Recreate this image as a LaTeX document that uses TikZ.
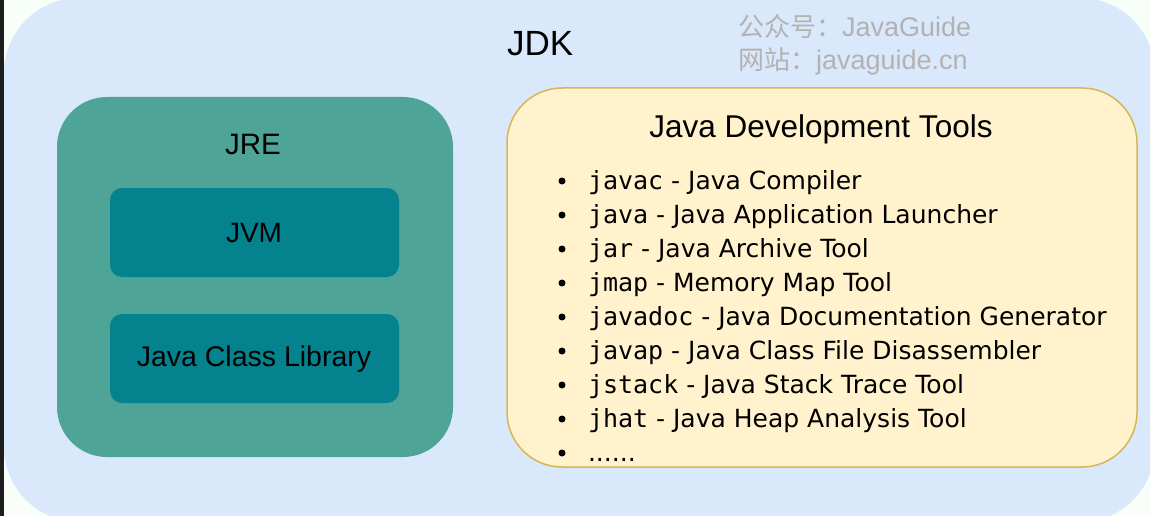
\documentclass[tikz,border=0pt]{standalone}
\usepackage{fontspec}
\setmainfont{Liberation Sans}
\newfontfamily\cjk{Noto Sans CJK SC}
\newfontfamily\listfont{DejaVu Sans}
\newfontfamily\codefont{DejaVu Sans Mono}
\definecolor{pagebg}{HTML}{F8FFF8}
\definecolor{darkedge}{HTML}{1E1E1E}
\definecolor{jdkfill}{HTML}{DAE8FC}
\definecolor{jrefill}{HTML}{4EA597}
\definecolor{innerfill}{HTML}{04838F}
\definecolor{toolfill}{HTML}{FFF2CC}
\definecolor{tooldraw}{HTML}{D6B656}
\definecolor{marktext}{HTML}{B2B2B2}
\newcommand{\fs}[1]{\fontsize{#1}{#1}\selectfont}
\tikzset{
  boxnode/.style={rectangle, inner sep=0pt, outer sep=0pt},
  lbl/.style={inner sep=0pt, outer sep=0pt, text=black},
  itemtext/.style={inner sep=0pt, outer sep=0pt, anchor=base west, text=black, font=\listfont\fs{25}},
  bulletdot/.style={circle, fill=black, inner sep=0pt, minimum size=7pt}
}
\newcommand{\cmd}[1]{{\codefont #1}}
\begin{document}
\begin{tikzpicture}[x=1pt,y=-1pt]
\useasboundingbox (0,0) rectangle (1150,516);
\fill[pagebg] (0,0) rectangle (1150,516);
\fill[darkedge] (0,0) rectangle (3.5,516);
% JDK outer
\node[boxnode, fill=jdkfill, rounded corners=75pt, minimum width=1151pt, minimum height=524pt] (jdk) at (579.5,260) {};
% JRE
\node[boxnode, fill=jrefill, rounded corners=50pt, minimum width=396pt, minimum height=360pt] (jre) at (255,277) {};
\node[boxnode, fill=innerfill, rounded corners=12pt, minimum width=289pt, minimum height=89pt] (jvm) at (254.5,232.5) {};
\node[boxnode, fill=innerfill, rounded corners=12pt, minimum width=289pt, minimum height=89pt] (jcl) at (254.5,358.5) {};
% Tools
\node[boxnode, fill=toolfill, draw=tooldraw, line width=1.5pt, rounded corners=55pt, minimum width=630pt, minimum height=379pt] (tools) at (822,277.5) {};
% labels
\node[lbl, anchor=base west, font=\fs{35}] (jdklbl) at (507,56) {JDK};
\node[lbl, anchor=base, font=\fs{29.5}] (jrelbl) at (253,154) {JRE};
\node[lbl, anchor=base, font=\fs{28}] (jvmlbl) at (254,242) {JVM};
\node[lbl, anchor=base, font=\fs{28.5}] (jcllbl) at (254,366) {Java Class Library};
\node[lbl, anchor=base, font=\fs{31.5}] (tooltitle) at (821,137) {Java Development Tools};
% watermark
\node[lbl, anchor=base west, text=marktext, font=\fs{27}] (wm1) at (738,37) {{\cjk\fs{26}公众号：}JavaGuide};
\node[lbl, anchor=base west, text=marktext, font=\fs{27}] (wm2) at (738,70) {{\cjk\fs{26}网站：}javaguide.cn};
% list
\foreach \i/\txt in {
  1/{\cmd{javac} - Java Compiler},
  2/{\cmd{java} - Java Application Launcher},
  3/{\cmd{jar} - Java Archive Tool},
  4/{\cmd{jmap} - Memory Map Tool},
  5/{\cmd{javadoc} - Java Documentation Generator},
  6/{\cmd{javap} - Java Class File Disassembler},
  7/{\cmd{jstack} - Java Stack Trace Tool},
  8/{\cmd{jhat} - Java Heap Analysis Tool},
  9/{......}} {
  \node[bulletdot] (b\i) at (562,{189+34*(\i-1)-8}) {};
  \node[itemtext] (t\i) at (588,{189+34*(\i-1)}) {\txt};
}
\end{tikzpicture}
\end{document}
